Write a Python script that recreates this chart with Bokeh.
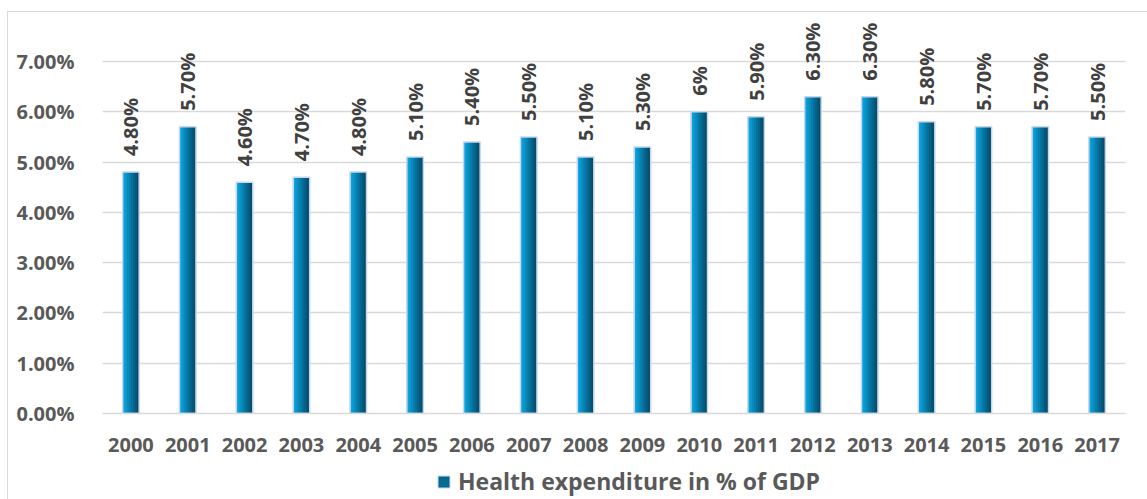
import math
from bokeh.plotting import figure
from bokeh.layouts import column
from bokeh.core.properties import value
from bokeh.models import (ColumnDataSource, FactorRange, Range1d, FixedTicker,
                          LabelSet, Legend, LegendItem)
from bokeh.transform import dodge
from bokeh.embed import file_html
from bokeh.resources import INLINE

# Health expenditure as % of GDP, by year
years = ["2000", "2001", "2002", "2003", "2004", "2005", "2006", "2007", "2008",
         "2009", "2010", "2011", "2012", "2013", "2014", "2015", "2016", "2017"]
health_pct_gdp = [4.8, 5.7, 4.6, 4.7, 4.8, 5.1, 5.4, 5.5, 5.1,
                  5.3, 6.0, 5.9, 6.3, 6.3, 5.8, 5.7, 5.7, 5.5]
value_labels = ["4.80%", "5.70%", "4.60%", "4.70%", "4.80%", "5.10%", "5.40%", "5.50%", "5.10%",
                "5.30%", "6%", "5.90%", "6.30%", "6.30%", "5.80%", "5.70%", "5.70%", "5.50%"]
y_ticks = [0, 1, 2, 3, 4, 5, 6, 7]
y_tick_labels = ["0.00%", "1.00%", "2.00%", "3.00%", "4.00%", "5.00%", "6.00%", "7.00%"]
series_name = "Health expenditure in % of GDP"

FONT = "Open Sans"
source = ColumnDataSource(dict(year=years, value=health_pct_gdp, label=value_labels))

p = figure(x_range=FactorRange(factors=years), y_range=Range1d(0, 7.914),
           width=1139, height=448, output_backend="svg", toolbar_location=None,
           min_border_left=94, min_border_right=22, min_border_top=3, min_border_bottom=47)
p.outline_line_color = None
p.background_fill_color = "white"
p.border_fill_color = "white"

# horizontal gradient bars drawn as thin vertical slices, light left -> dark right
bar_width = 0.2816
gradient = ["#0ea3dc", "#0a97cd", "#088abd", "#077dac", "#06709b", "#06648a", "#05587a", "#054d6b"]
n = len(gradient)
sw = bar_width / n
for i, c in enumerate(gradient):
    off = -bar_width / 2 + sw * (i + 0.5)
    w = sw * 1.6 if i < n - 1 else sw
    p.vbar(x=dodge("year", off + (w - sw) / 2, range=p.x_range), top="value", width=w,
           source=source, fill_color=c, line_color=None)
# light outline around each bar
p.vbar(x="year", top="value", width=bar_width + 0.01, source=source,
       fill_color=None, line_color="#c5d8ef", line_width=1.5)

# rotated value labels above the bars
labels = LabelSet(x="year", y="value", text="label", source=source, angle=math.pi / 2,
                  text_align="left", text_baseline="middle", y_offset=16,
                  text_font=value(FONT), text_font_style="bold", text_font_size="20px",
                  text_color="#404040")
p.add_layout(labels)

# axes
p.yaxis.ticker = FixedTicker(ticks=y_ticks)
p.yaxis.major_label_overrides = {t: s for t, s in zip(y_ticks, y_tick_labels)}
p.yaxis.axis_line_color = None
p.yaxis.major_tick_line_color = None
p.yaxis.minor_tick_line_color = None
p.yaxis.major_label_standoff = 22
p.xaxis.axis_line_color = "#d9d9d9"
p.xaxis.axis_line_width = 1.5
p.xaxis.major_tick_line_color = None
p.xaxis.major_label_standoff = 18
for ax in (p.xaxis, p.yaxis):
    ax.major_label_text_font = FONT
    ax.major_label_text_font_style = "bold"
    ax.major_label_text_font_size = "20px"
    ax.major_label_text_color = "#595959"

p.xgrid.grid_line_color = None
p.ygrid.grid_line_color = "#d9d9d9"
p.ygrid.grid_line_width = 1.5

# legend strip under the chart, sharing the category axis of the main plot
lg = figure(x_range=p.x_range, y_range=Range1d(0, 1), width=1139, height=39,
            output_backend="svg", toolbar_location=None,
            x_axis_location=None, y_axis_location=None,
            min_border_left=94, min_border_right=22, min_border_top=0, min_border_bottom=0)
lg.grid.visible = False
lg.outline_line_color = None
lg.background_fill_color = "white"
key = lg.vbar(x="year", top="value", width=bar_width, source=source,
              fill_color="#06698f", line_color="#c5d8ef", visible=False)
legend = Legend(items=[LegendItem(label=series_name, renderers=[key])],
                location=(334, 2), orientation="horizontal",
                glyph_width=15, glyph_height=15, label_standoff=7,
                padding=0, margin=0, border_line_color=None, background_fill_alpha=0,
                label_text_font=FONT, label_text_font_style="bold",
                label_text_font_size="23px", label_text_color="#595959")
lg.add_layout(legend, "center")

# chart area sits a little in from the page corner, thin grey border on top/left
page = column(p, lg, spacing=0,
              styles={"margin-left": "7px", "margin-top": "11px",
                      "border-top": "1px solid #d9d9d9", "border-left": "1px solid #d9d9d9"})

open("out.html", "w").write(file_html(page, INLINE))
